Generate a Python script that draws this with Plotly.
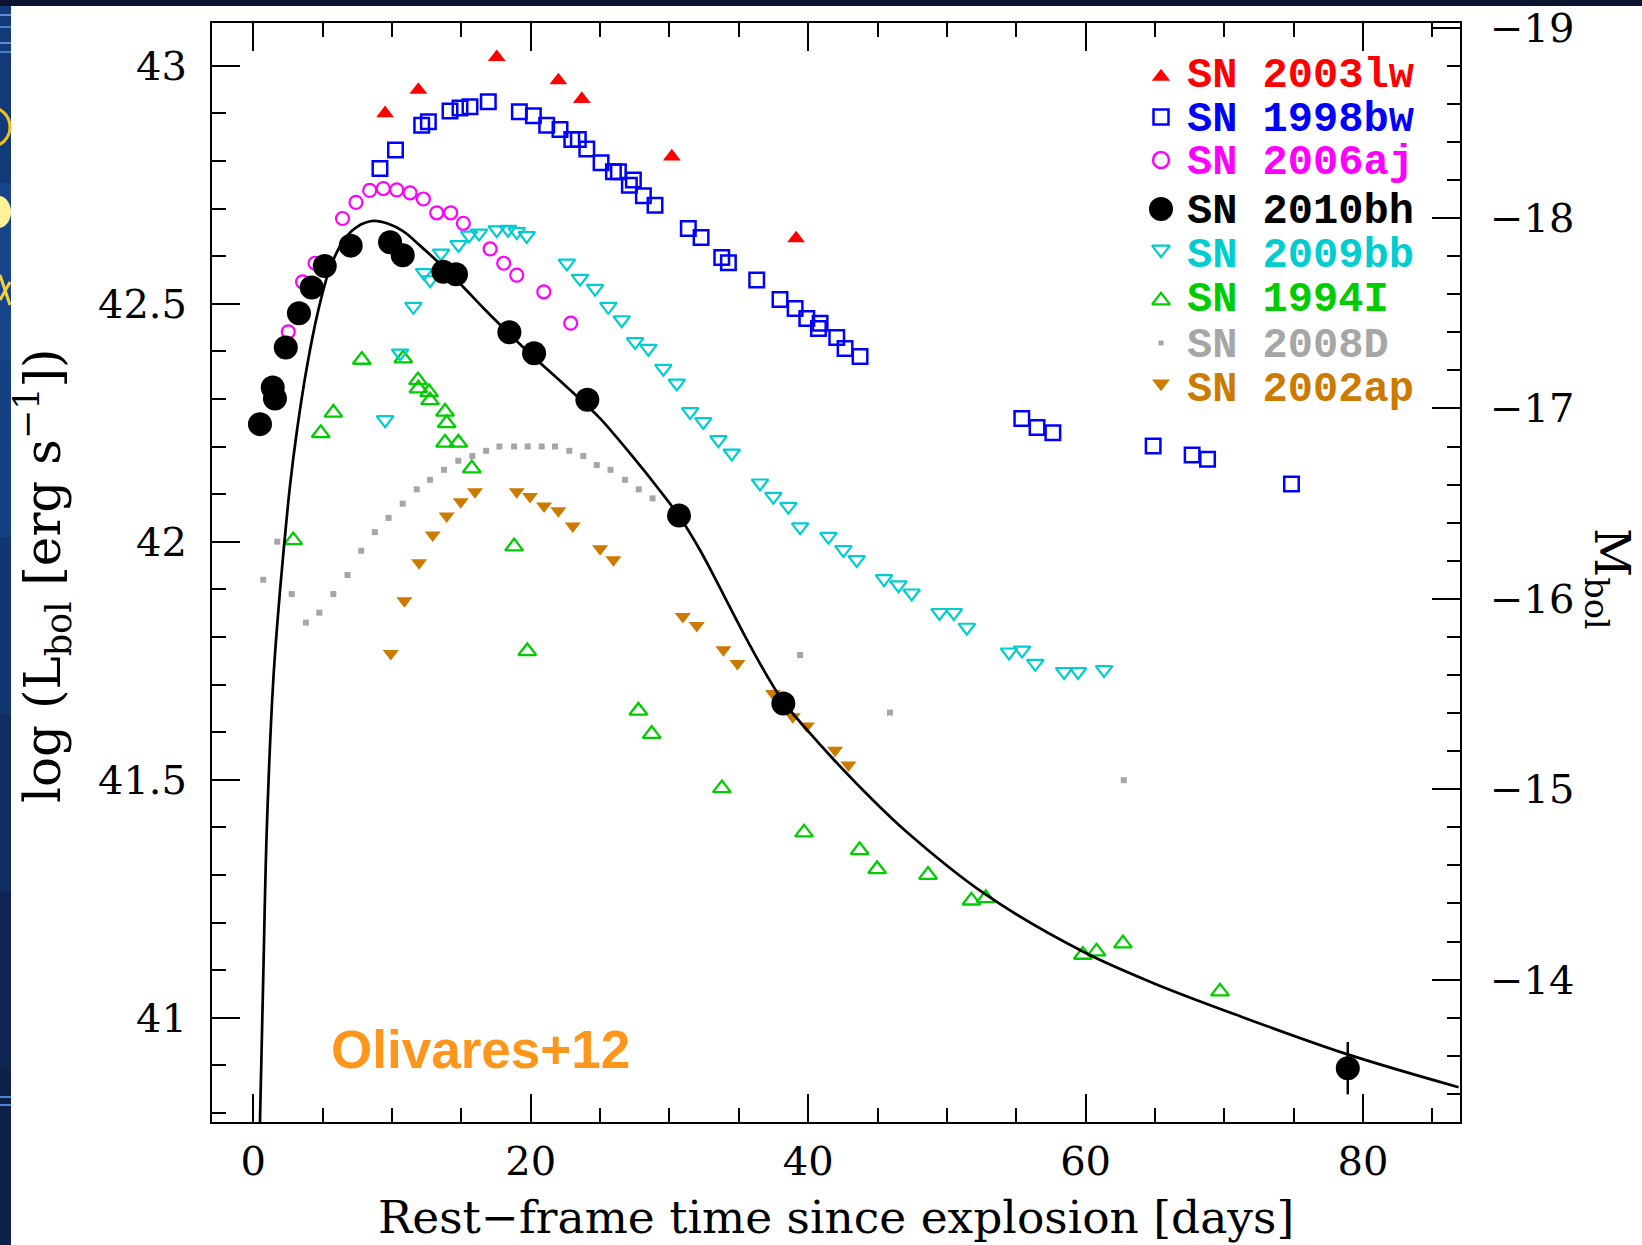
import plotly.graph_objects as go

# ---------------- data ----------------
# rest-frame days since explosion / log10 L_bol [erg s^-1]
sn2003lw_t = [9.50, 11.90, 17.55, 21.99, 23.68, 30.17, 39.13]
sn2003lw_l = [42.900, 42.949, 43.018, 42.969, 42.930, 42.809, 42.637]

sn1998bw_t = [9.13, 10.25, 12.14, 12.62, 14.18, 14.90, 15.62, 16.94, 19.18, 20.19,
              21.15, 22.11, 22.96, 23.43, 24.04, 25.07, 25.96, 26.32, 27.11, 27.40,
              28.12, 28.96, 31.36, 32.28, 33.77, 34.25, 36.29, 37.97, 39.06, 39.90,
              40.74, 40.86, 42.06, 42.66, 43.74, 55.40, 56.50, 57.64, 64.87, 67.68,
              68.79, 74.84]
sn1998bw_l = [42.784, 42.823, 42.875, 42.882, 42.905, 42.911, 42.914, 42.924, 42.903, 42.895,
              42.875, 42.866, 42.845, 42.845, 42.825, 42.796, 42.777, 42.777, 42.749, 42.760,
              42.727, 42.707, 42.658, 42.639, 42.597, 42.586, 42.550, 42.509, 42.490, 42.469,
              42.448, 42.459, 42.429, 42.406, 42.389, 42.259, 42.240, 42.229, 42.201, 42.182,
              42.173, 42.121]

sn2006aj_t = [2.52, 3.55, 4.45, 6.43, 7.40, 8.39, 9.37, 10.34, 11.30, 12.26,
              13.22, 14.23, 15.14, 17.07, 18.05, 18.99, 20.94, 22.88]
sn2006aj_l = [42.441, 42.546, 42.585, 42.679, 42.713, 42.738, 42.742, 42.739, 42.733, 42.720,
              42.691, 42.691, 42.669, 42.615, 42.585, 42.560, 42.525, 42.459]

sn2010bh_t = [0.48, 1.40, 1.56, 2.34, 3.29, 4.21, 5.15, 7.02, 9.86, 10.77,
              13.70, 14.61, 18.46, 20.24, 24.08, 30.69, 38.21, 78.90]
sn2010bh_l = [42.247, 42.324, 42.301, 42.408, 42.480, 42.534, 42.579, 42.622, 42.629, 42.602,
              42.567, 42.562, 42.440, 42.396, 42.298, 42.055, 41.660, 40.894]
sn2010bh_err = [0, 0, 0, 0, 0, 0, 0, 0, 0, 0, 0, 0, 0, 0, 0, 0, 0, 0.055]

sn2009bb_t = [9.50, 10.58, 11.54, 12.31, 12.75, 13.53, 14.79, 15.55, 16.27, 17.55,
              18.36, 18.99, 19.71, 22.60, 23.55, 24.64, 25.59, 26.56, 27.52, 28.48,
              29.56, 30.53, 31.49, 32.44, 33.53, 34.49, 36.53, 37.49, 38.57, 39.42,
              41.46, 42.54, 43.50, 45.47, 46.51, 47.46, 49.47, 50.50, 51.44, 54.48,
              55.42, 56.37, 58.45, 59.46, 61.33]
sn2009bb_l = [42.256, 42.396, 42.494, 42.565, 42.550, 42.606, 42.624, 42.644, 42.648, 42.655,
              42.656, 42.651, 42.643, 42.585, 42.553, 42.532, 42.494, 42.466, 42.420, 42.406,
              42.364, 42.333, 42.273, 42.252, 42.214, 42.186, 42.123, 42.095, 42.074, 42.031,
              42.011, 41.983, 41.962, 41.922, 41.909, 41.892, 41.851, 41.851, 41.820, 41.768,
              41.772, 41.744, 41.727, 41.727, 41.731]

sn1994I_t = [2.88, 4.86, 5.77, 7.82, 10.81, 11.87, 11.90, 12.67, 12.74, 13.82,
             13.94, 13.82, 14.78, 15.75, 18.80, 19.75, 27.76, 28.72, 33.78, 39.70,
             43.71, 44.97, 48.64, 51.77, 52.80, 59.80, 60.79, 62.69, 69.69]
sn1994I_l = [42.003, 42.228, 42.271, 42.382, 42.385, 42.339, 42.322, 42.314, 42.297, 42.273,
             42.249, 42.208, 42.208, 42.154, 41.990, 41.770, 41.645, 41.596, 41.482, 41.389,
             41.352, 41.312, 41.300, 41.246, 41.251, 41.132, 41.139, 41.156, 41.055]

sn2008D_t = [0.72, 1.73, 2.77, 3.79, 4.76, 5.77, 6.79, 7.78, 8.76, 9.75,
             10.77, 11.78, 12.74, 13.75, 14.78, 15.79, 16.78, 17.74, 18.80, 19.78,
             20.79, 21.75, 22.78, 23.79, 24.76, 25.75, 26.80, 27.79, 28.78, 39.42,
             45.90, 62.75]
sn2008D_l = [41.920, 42.000, 41.890, 41.830, 41.851, 41.890, 41.930, 41.981, 42.020, 42.050,
             42.080, 42.110, 42.130, 42.151, 42.170, 42.180, 42.191, 42.200, 42.200, 42.200,
             42.200, 42.200, 42.191, 42.180, 42.161, 42.151, 42.130, 42.110, 42.091, 41.762,
             41.641, 41.499]

sn2002ap_t = [9.91, 10.89, 11.95, 12.93, 13.94, 14.95, 15.98, 18.99, 19.95, 20.96,
              21.99, 23.03, 25.00, 25.96, 30.96, 31.97, 33.89, 34.90, 37.46, 38.89,
              39.90, 41.94, 42.90]
sn2002ap_l = [41.765, 41.876, 41.956, 42.014, 42.054, 42.084, 42.105, 42.105, 42.095, 42.075,
              42.065, 42.033, 41.985, 41.962, 41.843, 41.824, 41.773, 41.744, 41.681, 41.632,
              41.613, 41.562, 41.531]

# model light curve for SN 2010bh
model_t = [0.48, 0.72, 0.97, 1.44, 1.93, 2.29, 2.65, 3.13, 3.85, 4.69,
           5.53, 6.49, 7.45, 8.65, 9.73, 10.82, 12.02, 13.70, 15.14, 16.58,
           18.27, 19.95, 22.11, 24.08, 25.00, 27.40, 29.32, 30.69, 32.21, 33.89,
           35.57, 37.02, 38.21, 39.90, 41.82, 44.23, 47.15, 52.68, 59.80, 64.94,
           70.87, 78.78, 86.89]
model_l = [40.781, 41.090, 41.394, 41.709, 41.899, 42.014, 42.119, 42.230, 42.365, 42.487,
           42.575, 42.632, 42.661, 42.674, 42.668, 42.652, 42.622, 42.577, 42.535, 42.491,
           42.442, 42.395, 42.338, 42.285, 42.259, 42.177, 42.107, 42.054, 41.982, 41.889,
           41.795, 41.719, 41.664, 41.605, 41.543, 41.470, 41.389, 41.261, 41.139, 41.072,
           41.006, 40.924, 40.854]

legend_names = ["SN 2003lw", "SN 1998bw", "SN 2006aj", "SN 2010bh",
                "SN 2009bb", "SN 1994I", "SN 2008D", "SN 2002ap"]

x_tickvals = [0, 20, 40, 60, 80]
y_tickvals = [41, 41.5, 42, 42.5, 43]
y_ticktext = ["41", "41.5", "42", "42.5", "43"]
m_tickvals = [-19, -18, -17, -16, -15, -14]
m_ticktext = ["\u221219", "\u221218", "\u221217", "\u221216", "\u221215", "\u221214"]

# ---------------- styling / layout constants ----------------
W, H = 1642, 1245
PX_L, PX_R, PX_T, PX_B = 212, 1460, 23, 1122
X_RANGE = [-2.978, 86.99]
Y_RANGE = [40.7809, 43.0897]
MBOL_ZP = 88.70                     # M_bol = MBOL_ZP - 2.5 log L
M_RANGE = [MBOL_ZP - 2.5 * Y_RANGE[0], MBOL_ZP - 2.5 * Y_RANGE[1]]

RED, BLUE, MAG, BLK = "#ff0000", "#0000ff", "#ff00ff", "#000000"
CYAN, GREEN, GREY, ORANGE = "#00cdd0", "#00cc00", "#a6a6a6", "#cc7a00"
SERIF = "DejaVu Serif"
MONO = "Liberation Mono"


def px(xpix):
    return (xpix - PX_L) / (PX_R - PX_L)


def py(ypix):
    return (PX_B - ypix) / (PX_B - PX_T)


fig = go.Figure()


def series(t, l, symbol, size, color, lw=0, **kw):
    fig.add_trace(go.Scatter(
        x=t, y=l, mode="markers", showlegend=False, hoverinfo="skip",
        marker=dict(symbol=symbol, size=size, color=color,
                    line=dict(width=lw, color=color)), **kw))


series(sn2008D_t, sn2008D_l, "square", 6, GREY)
series(sn2002ap_t, sn2002ap_l, "triangle-down", 14, ORANGE)
series(sn1994I_t, sn1994I_l, "triangle-up-open", 15.5, GREEN, 2.3)
series(sn2009bb_t, sn2009bb_l, "triangle-down-open", 14.5, CYAN, 2.2)
series(sn2006aj_t, sn2006aj_l, "circle-open", 13, MAG, 2.2)
series(sn1998bw_t, sn1998bw_l, "square-open", 14.5, BLUE, 2.5)
series(sn2003lw_t, sn2003lw_l, "triangle-up", 15.5, RED)
series(sn2010bh_t, sn2010bh_l, "circle", 24, BLK,
       error_y=dict(type="data", array=sn2010bh_err, visible=True,
                    thickness=2.5, width=0, color=BLK))

fig.add_trace(go.Scatter(x=model_t, y=model_l, mode="lines", showlegend=False,
                         hoverinfo="skip",
                         line=dict(color=BLK, width=2.7, shape="spline", smoothing=1.0)))

# dummy trace so the right-hand M_bol axis is drawn
fig.add_trace(go.Scatter(x=[], y=[], yaxis="y2", showlegend=False))

# ---------------- legend (keys on a pixel-scaled overlay axis) ----------------
key_x = 1161
text_x = 1185
row_y = [73, 117, 160, 209, 253, 297, 343, 387]
key_styles = [
    ("triangle-up", 16, RED, 0),
    ("square-open", 15, BLUE, 2.5),
    ("circle-open", 16, MAG, 2.5),
    ("circle", 24, BLK, 0),
    ("triangle-down-open", 15.5, CYAN, 2.2),
    ("triangle-up-open", 15.5, GREEN, 2.2),
    ("square", 5, GREY, 0),
    ("triangle-down", 15.5, ORANGE, 0),
]
for name, (sym, sz, col, lw), ry in zip(legend_names, key_styles, row_y):
    off = 0.0
    if sym.startswith("triangle-up"):
        off = 0.457 * sz / 2
    elif sym.startswith("triangle-down"):
        off = -0.457 * sz / 2
    fig.add_trace(go.Scatter(
        x=[key_x], y=[ry + off], xaxis="x3", yaxis="y3", mode="markers",
        showlegend=False, hoverinfo="skip",
        marker=dict(symbol=sym, size=sz, color=col, line=dict(width=lw, color=col))))
    fig.add_annotation(x=px(text_x), y=py(ry + 3), xref="paper", yref="paper",
                       xanchor="left", yanchor="middle", showarrow=False,
                       text="<b>" + name + "</b>",
                       font=dict(family=MONO, size=42, color=col))

# ---------------- titles / labels ----------------
fig.add_annotation(x=px(836), y=py(1217), xref="paper", yref="paper",
                   xanchor="center", yanchor="middle", showarrow=False,
                   text="Rest\u2212frame time since explosion [days]",
                   font=dict(family=SERIF, size=45.5, color="black"))
fig.add_annotation(x=px(43), y=py(576), xref="paper", yref="paper",
                   xanchor="center", yanchor="middle", showarrow=False, textangle=-90,
                   text="log (L<sub>bol</sub> [erg s<sup>\u22121</sup>])",
                   font=dict(family=SERIF, size=50, color="black"))
fig.add_annotation(x=px(1609), y=py(579), xref="paper", yref="paper",
                   xanchor="center", yanchor="middle", showarrow=False, textangle=90,
                   text="M<sub>bol</sub>",
                   font=dict(family=SERIF, size=48, color="black"))
fig.add_annotation(x=px(480), y=py(1049), xref="paper", yref="paper",
                   xanchor="center", yanchor="middle", showarrow=False,
                   text="<b>Olivares+12</b>",
                   font=dict(family="Liberation Sans", size=53, color="#ff961c"))

# ---------------- slide frame decoration ----------------
shapes = []


def rect(x0, y0, x1, y1, color):
    shapes.append(dict(type="rect", xref="paper", yref="paper", layer="below",
                       x0=px(x0), x1=px(x1), y0=py(y0), y1=py(y1),
                       fillcolor=color, line=dict(width=0)))


rect(0, 0, W, 6, "#0b1530")
strip_cols = ["#123a78", "#17458a", "#154082", "#113670", "#0f2d60", "#0d2550", "#0c2048"]
seg = (H - 6) / len(strip_cols)
for i, c in enumerate(strip_cols):
    rect(0, 6 + i * seg, 11, 6 + (i + 1) * seg, c)
for yy, c in [(15, "#5e8fd6"), (27, "#4b7cc8"), (43, "#5e8fd6"), (52, "#4b7cc8"),
              (1097, "#4f82d0"), (1105, "#4f82d0")]:
    shapes.append(dict(type="line", xref="paper", yref="paper", layer="below",
                       x0=px(0), x1=px(11), y0=py(yy), y1=py(yy),
                       line=dict(color=c, width=2)))
shapes.append(dict(type="circle", xref="paper", yref="paper", layer="below",
                   x0=px(-30), x1=px(10), y0=py(147), y1=py(107),
                   line=dict(color="#f2c21b", width=3)))
shapes.append(dict(type="circle", xref="paper", yref="paper", layer="below",
                   x0=px(-14), x1=px(11), y0=py(228), y1=py(196),
                   fillcolor="#fff39a", line=dict(width=0)))
shapes.append(dict(type="line", xref="paper", yref="paper", layer="below",
                   x0=px(0), x1=px(10), y0=py(275), y1=py(305),
                   line=dict(color="#f2d23b", width=3)))
shapes.append(dict(type="line", xref="paper", yref="paper", layer="below",
                   x0=px(0), x1=px(10), y0=py(300), y1=py(282),
                   line=dict(color="#f2d23b", width=3)))

# ---------------- axes ----------------
axis_common = dict(showgrid=False, zeroline=False, showline=True, linecolor="black",
                   linewidth=2, ticks="inside", ticklen=28, tickwidth=2,
                   tickcolor="black", automargin=False,
                   tickfont=dict(family=SERIF, size=40, color="black"))

fig.update_layout(
    width=W, height=H,
    margin=dict(l=PX_L, r=W - PX_R, t=PX_T, b=H - PX_B, pad=0, autoexpand=False),
    paper_bgcolor="white", plot_bgcolor="white",
    showlegend=False,
    shapes=shapes,
    xaxis=dict(range=X_RANGE, tickmode="array", tickvals=x_tickvals, mirror="ticks",
               ticklabelstandoff=3,
               minor=dict(tickmode="linear", tick0=0, dtick=5, ticks="inside",
                          ticklen=14, tickwidth=2, tickcolor="black"),
               **axis_common),
    yaxis=dict(range=Y_RANGE, tickmode="array", tickvals=y_tickvals, ticktext=y_ticktext,
               mirror=True, ticklabelstandoff=15,
               minor=dict(tickmode="linear", tick0=41, dtick=0.1, ticks="inside",
                          ticklen=14, tickwidth=2, tickcolor="black"),
               **axis_common),
    yaxis2=dict(range=M_RANGE, overlaying="y", side="right", anchor="x",
                tickmode="array", tickvals=m_tickvals, ticktext=m_ticktext,
                ticklabelstandoff=20,
                minor=dict(tickmode="linear", tick0=-19, dtick=0.2, ticks="inside",
                           ticklen=13, tickwidth=2, tickcolor="black"),
                **axis_common),
    xaxis3=dict(range=[PX_L, PX_R], overlaying="x", visible=False, anchor="y3",
                automargin=False),
    yaxis3=dict(range=[PX_B, PX_T], overlaying="y", visible=False, anchor="x3",
                automargin=False),
)

fig.write_html("out.html")
